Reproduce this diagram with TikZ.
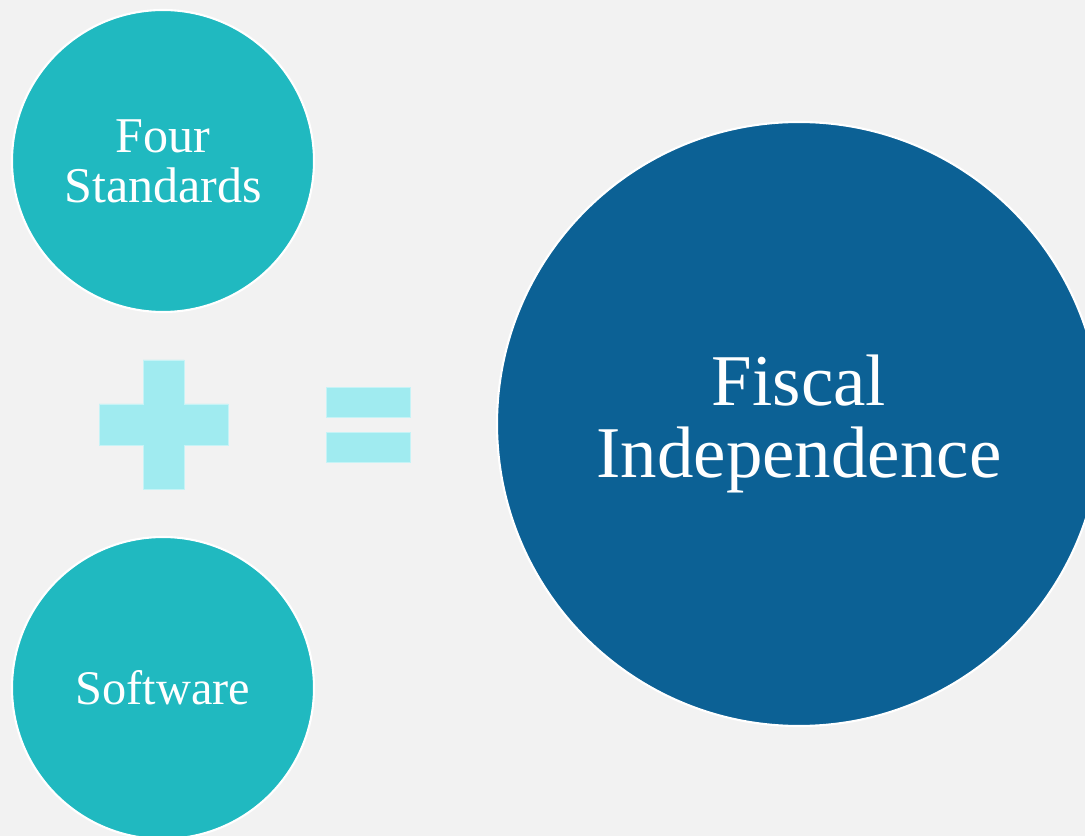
\documentclass[tikz,border=0pt]{standalone}
\usepackage{fontspec}
\setmainfont{Liberation Serif}
\usepackage{tikz}
\usetikzlibrary{calc}
\usetikzlibrary{positioning}

\definecolor{bgGray}{HTML}{F2F2F2}
\definecolor{tealBall}{HTML}{20B9C0}
\definecolor{deepBlue}{HTML}{0C6195}
\definecolor{paleCyan}{HTML}{A0EBF0}

\tikzset{
    ball/.style={circle, draw=white, line width=1.2pt, text=white, align=center, inner sep=0pt},
    bar/.style={fill=paleCyan, draw=paleCyan!60!white, line width=0.4pt}
}

\begin{document}
\begin{tikzpicture}
        \fill[bgGray] (0,0) rectangle (21.7,-16.72);
        \useasboundingbox (0,0) rectangle (21.7,-16.72);
        \node[ball, fill=tealBall, minimum size=6.04cm, font=\fontsize{28.5}{28.3}\selectfont] (four) at (3.26,-3.22) {Four\\Standards};
        \node[ball, fill=tealBall, minimum size=6.04cm, font=\fontsize{27.5}{28}\selectfont] (soft) at (3.26,-13.76) {Software};
        \node[ball, fill=deepBlue, minimum size=12.08cm, font=\fontsize{41.5}{41.4}\selectfont] (fisc) at (15.98,-8.48) {Fiscal\\Independence};
        % plus sign
        \draw[bar] (2.86,-7.2) -- (3.68,-7.2) -- (3.68,-8.08) -- (4.56,-8.08) -- (4.56,-8.9)
            -- (3.68,-8.9) -- (3.68,-9.78) -- (2.86,-9.78) -- (2.86,-8.9) -- (1.98,-8.9)
            -- (1.98,-8.08) -- (2.86,-8.08) -- cycle;
        % equals sign
        \draw[bar] (6.52,-7.74) rectangle (8.2,-8.34);
        \draw[bar] (6.52,-8.64) rectangle (8.2,-9.24);
    \end{tikzpicture}
\end{document}
